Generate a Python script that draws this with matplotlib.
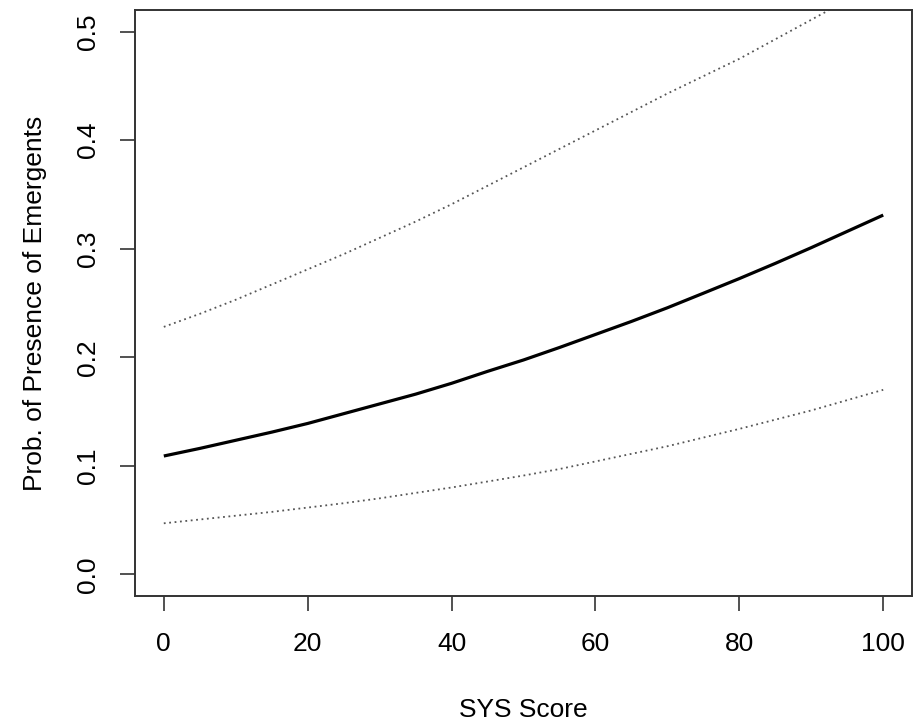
import numpy as np
import matplotlib.pyplot as plt

plt.rcParams['font.family'] = ['Liberation Sans', 'DejaVu Sans']

# SYS score vs fitted probability, with confidence band
sys_score = [0, 5, 10, 15, 20, 25, 30, 35, 40, 45, 50,
             55, 60, 65, 70, 75, 80, 85, 90, 95, 100]
prob_fit = [0.109, 0.116, 0.1235, 0.131, 0.139, 0.148, 0.157, 0.166, 0.176, 0.187, 0.1975,
            0.209, 0.221, 0.233, 0.2456, 0.259, 0.2725, 0.2865, 0.301, 0.316, 0.331]
prob_upper = [0.228, 0.240, 0.253, 0.267, 0.281, 0.295, 0.310, 0.325, 0.341, 0.358, 0.375,
              0.392, 0.409, 0.426, 0.443, 0.459, 0.475, 0.493, 0.511, 0.529, 0.547]
prob_lower = [0.047, 0.0505, 0.054, 0.0575, 0.0615, 0.0655, 0.070, 0.075, 0.080, 0.0855, 0.091,
              0.097, 0.104, 0.111, 0.118, 0.126, 0.134, 0.1425, 0.151, 0.1605, 0.170]

fig = plt.figure(figsize=(9.13, 7.28), dpi=100)
ax = fig.add_axes([0.1479, 0.1813, 0.851, 0.805])

ax.plot(sys_score, prob_fit, color='black', lw=2.3, solid_capstyle='butt')
ax.plot(sys_score, prob_upper, color='#555555', lw=1.3, linestyle=(0, (1, 2)))
ax.plot(sys_score, prob_lower, color='#555555', lw=1.3, linestyle=(0, (1, 2)))

ax.set_xlim(-4, 104)
ax.set_ylim(-0.02, 0.52)
ax.set_xticks([0, 20, 40, 60, 80, 100])
ax.set_yticks([0.0, 0.1, 0.2, 0.3, 0.4, 0.5])
ax.set_yticklabels(['0.0', '0.1', '0.2', '0.3', '0.4', '0.5'], rotation=90, va='center')

for s in ax.spines.values():
    s.set_color('#333333')
    s.set_linewidth(1.4)
ax.tick_params(axis='both', length=11, width=1.2, color='#333333', labelsize=19)
ax.tick_params(axis='x', pad=15)
ax.tick_params(axis='y', pad=14)

ax.set_xlabel('SYS Score', fontsize=19, labelpad=30)
ax.set_ylabel('Prob. of Presence of Emergents', fontsize=19, labelpad=21)

fig.savefig('out.png', dpi=100)
